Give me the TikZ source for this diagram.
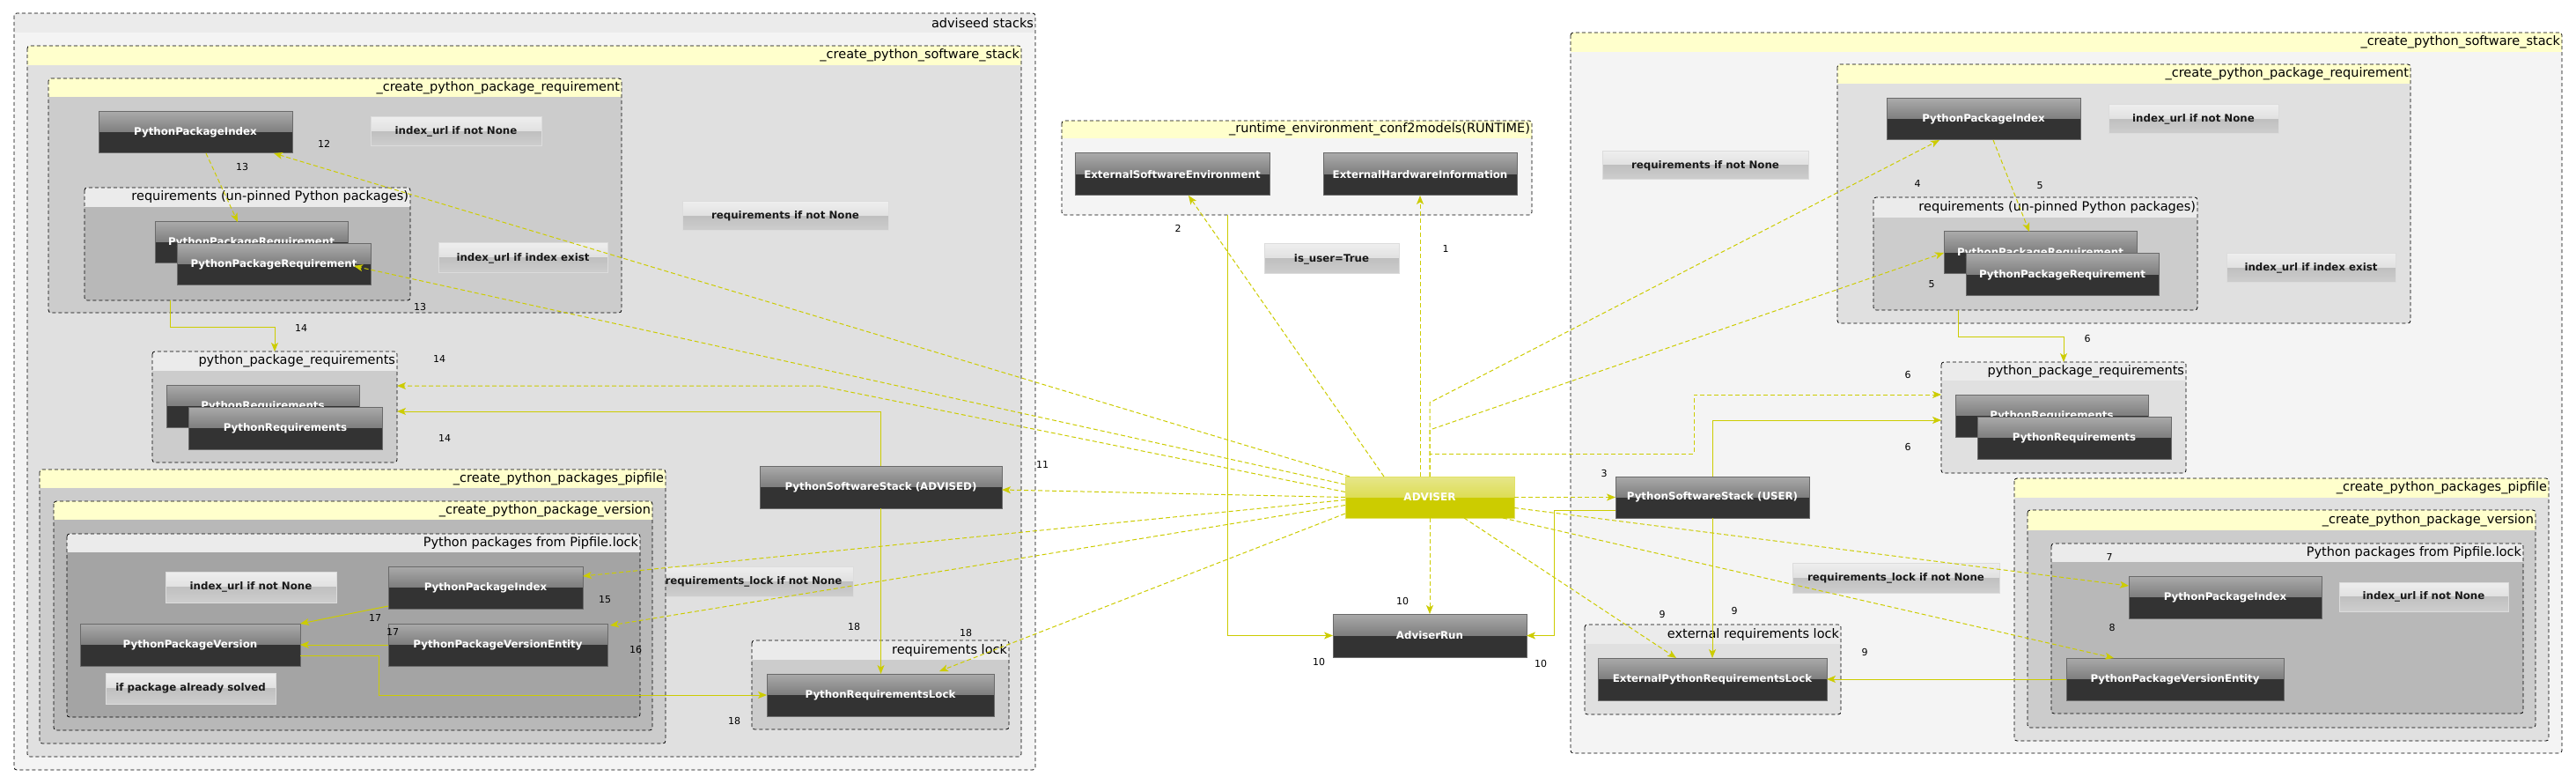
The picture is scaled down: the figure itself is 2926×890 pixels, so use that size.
\documentclass[tikz,border=0pt]{standalone}
\usepackage{fontspec}
\setmainfont{DejaVu Sans}
\usetikzlibrary{arrows.meta,calc}
\definecolor{edgec}{HTML}{CCCC00}
\definecolor{hdrY}{HTML}{FFFFCC}
\definecolor{hdrG}{HTML}{EBEBEB}
\definecolor{b1}{HTML}{F4F4F4}
\definecolor{b2}{HTML}{E0E0E0}
\definecolor{b3}{HTML}{CCCCCC}
\definecolor{b4}{HTML}{B8B8B8}
\definecolor{b5}{HTML}{A4A4A4}
\definecolor{dkTop}{HTML}{AAAAAA}
\definecolor{dkMid}{HTML}{505050}
\definecolor{dkBot}{HTML}{333333}
\definecolor{dkBorder}{HTML}{6A6A6A}
\definecolor{gbTop}{HTML}{EEEEEE}
\definecolor{gbMid}{HTML}{D2D2D2}
\definecolor{gbBotA}{HTML}{C0C0C0}
\definecolor{gbBotB}{HTML}{CECECE}
\definecolor{gbBorder}{HTML}{DCDCDC}
\definecolor{advTop}{HTML}{E6E68A}
\definecolor{advMid}{HTML}{D4D41E}
\definecolor{advBot}{HTML}{CCCC00}
\definecolor{advBorder}{HTML}{E2E266}
\tikzset{
  edge/.style={draw=edgec, line width=1pt, -{Stealth[length=10pt,width=8pt,inset=2.5pt]}},
  dedge/.style={edge, dash pattern=on 5pt off 3pt},
  clusborder/.style={draw=black, line width=0.8pt, dash pattern=on 4pt off 3pt, rounded corners=3pt},
  cluslabel/.style={inner sep=0pt, outer sep=0pt, text=black, font=\fontsize{14.5}{16}\selectfont},
  elab/.style={inner sep=0pt, text=black, font=\fontsize{11}{12}\selectfont},
  dk/.style={inner sep=0pt, outer sep=0pt, draw=dkBorder, line width=1pt, text=white,
    font=\bfseries\fontsize{11.8}{13}\selectfont,
    path picture={\shade[top color=dkTop,bottom color=dkMid] (path picture bounding box.north west) rectangle (path picture bounding box.east);
      \fill[dkBot] (path picture bounding box.west) rectangle (path picture bounding box.south east);}},
  gb/.style={inner sep=0pt, outer sep=0pt, draw=gbBorder, line width=1pt, text=black!90,
    font=\bfseries\fontsize{11.8}{13}\selectfont,
    path picture={\shade[top color=gbTop,bottom color=gbMid] (path picture bounding box.north west) rectangle (path picture bounding box.east);
      \shade[top color=gbBotA,bottom color=gbBotB] (path picture bounding box.west) rectangle (path picture bounding box.south east);}},
  av/.style={inner sep=0pt, outer sep=0pt, draw=advBorder, line width=1pt, text=white,
    font=\bfseries\fontsize{12}{13}\selectfont,
    path picture={\shade[top color=advTop,bottom color=advMid] (path picture bounding box.north west) rectangle (path picture bounding box.east);
      \fill[advBot] (path picture bounding box.west) rectangle (path picture bounding box.south east);}}
}
\newcommand\clus[9]{%
  \fill[#8, rounded corners=3pt] (#2,#3) rectangle (#4,#5);
  \begin{scope}
    \clip[rounded corners=3pt] (#2,#3) rectangle (#4,#5);
    \fill[#7] (#2,#3) rectangle (#4,#6);
  \end{scope}
  \draw[clusborder] (#2,#3) rectangle (#4,#5);
  \node[inner sep=0pt, outer sep=0pt, minimum width={(#4-#2)*1pt}, minimum height={(#5-#3)*1pt}] (#1) at ({(#2+#4)/2},{(#3+#5)/2}) {};
  \node[cluslabel, anchor=east] (#1-l) at ({#4-2},{(#3+#6)/2}) {#9};
}
\newcommand\dnode[6]{\node[dk, minimum width={(#4-#2)*1pt}, minimum height={(#5-#3)*1pt}] (#1) at ({(#2+#4)/2},{(#3+#5)/2}) {#6};}
\newcommand\gnode[6]{\node[gb, minimum width={(#4-#2)*1pt}, minimum height={(#5-#3)*1pt}] (#1) at ({(#2+#4)/2},{(#3+#5)/2}) {#6};}
\newcommand\anode[6]{\node[av, minimum width={(#4-#2)*1pt}, minimum height={(#5-#3)*1pt}] (#1) at ({(#2+#4)/2},{(#3+#5)/2}) {#6};}
\begin{document}
\begin{tikzpicture}[x=1pt,y=-1pt]
\useasboundingbox (0,0) rectangle (2926,890);
\fill[white] (0,0) rectangle (2926,890);

% ---------- left clusters ----------
\clus{cadv}{16}{15}{1176}{874}{37}{hdrG}{b1}{adviseed stacks}
\clus{cpssL}{31}{52}{1160}{859}{74}{hdrY}{b2}{\_create\_python\_software\_stack}
\gnode{gReqL}{775}{229}{1009}{262}{requirements if not None}
\gnode{gRlL}{743}{643}{969}{677}{requirements\_lock if not None}
\clus{cpprL}{55}{89}{706}{355}{110}{hdrY}{b3}{\_create\_python\_package\_requirement}
\clus{creqL}{96}{213}{466}{341}{235}{hdrG}{b4}{requirements (un-pinned Python packages)}
\clus{pprqL}{173}{399}{451}{525}{421}{hdrG}{b3}{python\_package\_requirements}
\clus{cpipL}{45}{533}{756}{844}{554}{hdrY}{b3}{\_create\_python\_packages\_pipfile}
\clus{cverL}{61}{569}{741}{829}{590}{hdrY}{b4}{\_create\_python\_package\_version}
\clus{clockL}{76}{606}{727}{814}{627}{hdrG}{b5}{Python packages from Pipfile.lock}
\clus{crlL}{854}{727}{1146}{828}{749}{hdrG}{b3}{requirements lock}

% ---------- centre cluster ----------
\clus{crt}{1206}{137}{1740}{244}{157}{hdrY}{b1}{\_runtime\_environment\_conf2models(RUNTIME)}

% ---------- right clusters ----------
\clus{cpssR}{1784}{37}{2910}{855}{59}{hdrY}{b1}{\_create\_python\_software\_stack}
\clus{cpprR}{2087}{73}{2738}{367}{95}{hdrY}{b2}{\_create\_python\_package\_requirement}
\clus{creqR}{2128}{224}{2496}{352}{247}{hdrG}{b3}{requirements (un-pinned Python packages)}
\clus{pprqR}{2205}{411}{2483}{537}{432}{hdrG}{b2}{python\_package\_requirements}
\clus{cerl}{1800}{709}{2091}{811}{731}{hdrG}{b2}{external requirements lock}
\clus{cpipR}{2288}{543}{2895}{841}{565}{hdrY}{b2}{\_create\_python\_packages\_pipfile}
\clus{cverR}{2303}{579}{2880}{826}{602}{hdrY}{b3}{\_create\_python\_package\_version}
\clus{clockR}{2330}{617}{2866}{810}{638}{hdrG}{b4}{Python packages from Pipfile.lock}

% ---------- grey condition boxes ----------
\gnode{gIdx1L}{421}{133}{615}{166}{index\_url if not None}
\gnode{gIdx2L}{498}{276}{690}{310}{index\_url if index exist}
\gnode{gIdx3L}{188}{649}{382}{684}{index\_url if not None}
\gnode{gSolved}{120}{764}{313}{799}{if package already solved}
\gnode{gUser}{1436}{277}{1589}{311}{is\_user=True}
\gnode{gReqR}{1820}{172}{2054}{204}{requirements if not None}
\gnode{gIdx1R}{2395}{119}{2588}{152}{index\_url if not None}
\gnode{gIdx2R}{2529}{288}{2721}{321}{index\_url if index exist}
\gnode{gRlR}{2036}{639}{2271}{673}{requirements\_lock if not None}
\gnode{gIdx3R}{2657}{661}{2849}{694}{index\_url if not None}

% ---------- dark nodes ----------
\dnode{ppiL}{112}{127}{332}{174}{PythonPackageIndex}
\dnode{pprLb}{176}{252}{395}{299}{PythonPackageRequirement}
\dnode{pprLf}{201}{277}{421}{324}{PythonPackageRequirement}
\dnode{prLb}{189}{437}{408}{485}{PythonRequirements}
\dnode{prLf}{214}{462}{434}{510}{PythonRequirements}
\dnode{ppi2L}{441}{643}{662}{691}{PythonPackageIndex}
\dnode{ppvL}{91}{708}{341}{756}{PythonPackageVersion}
\dnode{ppveL}{441}{708}{690}{756}{PythonPackageVersionEntity}
\dnode{pssA}{863}{529}{1138}{577}{PythonSoftwareStack (ADVISED)}
\dnode{prlL}{871}{765}{1129}{813}{PythonRequirementsLock}
\dnode{ese}{1221}{174}{1442}{222}{ExternalSoftwareEnvironment}
\dnode{ehi}{1503}{174}{1723}{222}{ExternalHardwareInformation}
\anode{adv}{1528}{541}{1720}{588}{ADVISER}
\dnode{arun}{1514}{697}{1734}{746}{AdviserRun}
\dnode{ppiR}{2143}{112}{2363}{159}{PythonPackageIndex}
\dnode{pprRb}{2208}{263}{2427}{311}{PythonPackageRequirement}
\dnode{pprRf}{2233}{288}{2452}{336}{PythonPackageRequirement}
\dnode{prRb}{2221}{448}{2440}{496}{PythonRequirements}
\dnode{prRf}{2246}{473}{2466}{521}{PythonRequirements}
\dnode{pssU}{1835}{541}{2055}{588}{PythonSoftwareStack (USER)}
\dnode{eprl}{1815}{747}{2075}{795}{ExternalPythonRequirementsLock}
\dnode{ppi2R}{2418}{654}{2637}{702}{PythonPackageIndex}
\dnode{ppveR}{2347}{747}{2594}{795}{PythonPackageVersionEntity}

% ---------- connectors: left internal ----------
\draw[dedge] ([xshift=12pt]ppiL.south) -- ([xshift=-15.5pt]pprLb.north);
\draw[edge] ([xshift=-88pt]creqL.south) -- ++(0,31) -| (pprqL.north);
\draw[edge] ([yshift=3pt]ppi2L.south west) -- (ppvL.north east);
\draw[edge] (ppveL.west) -- (ppvL.east);
\draw[edge] ([yshift=-12pt]ppvL.east) -- ++(89,0) |- (prlL.west);
\draw[edge] (pssA.south) -- (pssA.south |- prlL.north);
\draw[edge] (pssA.north) |- ([yshift=-5pt]pprqL.east);

% ---------- connectors: ADVISER to the left ----------
\coordinate (b14) at (931,438);
\draw[dedge] ([xshift=5pt]adv.north west) -- ([xshift=-21pt]ppiL.south east);
\draw[dedge] ([yshift=-9pt]adv.north west) -- ([xshift=-19pt,yshift=-1.5pt]pprLf.east);
\draw[dedge] ([yshift=6pt]adv.west) -- (b14) -- ([yshift=24pt]pprqL.east);
\draw[dedge] (adv.west) -- ([yshift=-3pt]pssA.east);
\draw[dedge] ([yshift=-3pt]adv.west) -- ([yshift=13pt]ppi2L.east);
\draw[dedge] ([yshift=-9pt]adv.west) -- ([xshift=3pt,yshift=-2pt]ppveL.north east);
\draw[dedge] ([yshift=5pt]adv.south west) -- ([xshift=67pt,yshift=3pt]prlL.north);

% ---------- connectors: ADVISER upwards ----------
\draw[dedge] ([xshift=44pt]adv.north west) -- ([xshift=18.5pt]ese.south);
\draw[dedge] ([xshift=-11pt]adv.north) -- (ehi.south);
\draw[dedge] (adv.north) -- ++(0,-84) -- ([xshift=60pt]ppiR.south west);
\draw[dedge] (adv.north) -- ++(0,-53) -- (pprRb.west);
\draw[dedge] (adv.north) -- ++(0,-26) -- ++(300,0) |- ([yshift=26pt]pprqR.west);

% ---------- connectors: ADVISER to the right / down ----------
\draw[dedge] (adv.east) -- (pssU.west);
\draw[dedge] ([yshift=-12pt]adv.east) -- ([yshift=13pt]ppi2R.west);
\draw[dedge] ([xshift=-13pt]adv.south east) -- ([xshift=54pt]ppveR.north west);
\draw[dedge] ([xshift=-57pt]adv.south east) -- ([xshift=89pt]eprl.north west);
\draw[dedge] (adv.south) -- (arun.north);

% ---------- connectors: right internal ----------
\draw[dedge] ([xshift=11pt]ppiR.south) -- ([xshift=-12.5pt]pprRb.north);
\draw[edge] ([xshift=-88pt]creqR.south) -- ++(0,31) -| (pprqR.north);
\draw[edge] (pssU.north) |- ([yshift=-3pt]pprqR.west);
\draw[edge] (pssU.south) -- (pssU.south |- eprl.north);
\draw[edge] (ppveR.west) -- (eprl.east);
\draw[edge] ([yshift=-14.5pt]pssU.west) -- ++(-70,0) |- (arun.east);
\draw[edge] ([xshift=-79pt]crt.south) |- (arun.west);

% ---------- edge labels ----------
\node[elab] (n12) at (368,163) {12};
\node[elab] (n13a) at (275,189) {13};
\node[elab] (n13b) at (477,348) {13};
\node[elab] (n14a) at (342,372) {14};
\node[elab] (n14b) at (499,407) {14};
\node[elab] (n14c) at (505,497) {14};
\node[elab] (n17a) at (426,701) {17};
\node[elab] (n17b) at (446,717) {17};
\node[elab] (n15) at (687,681) {15};
\node[elab] (n16) at (722,737) {16};
\node[elab] (n18a) at (970,711) {18};
\node[elab] (n18b) at (1097,718) {18};
\node[elab] (n18c) at (834,818) {18};
\node[elab] (n11) at (1184,527) {11};
\node[elab] (n2) at (1338,259) {2};
\node[elab] (n1) at (1642,282) {1};
\node[elab] (n10a) at (1593,682) {10};
\node[elab] (n10b) at (1498,751) {10};
\node[elab] (n10c) at (1750,753) {10};
\node[elab] (n3) at (1822,537) {3};
\node[elab] (n4) at (2178,208) {4};
\node[elab] (n5a) at (2317,211) {5};
\node[elab] (n5b) at (2194,323) {5};
\node[elab] (n6a) at (2371,384) {6};
\node[elab] (n6b) at (2167,425) {6};
\node[elab] (n6c) at (2167,507) {6};
\node[elab] (n7) at (2396,632) {7};
\node[elab] (n8) at (2399,712) {8};
\node[elab] (n9a) at (1888,697) {9};
\node[elab] (n9b) at (1970,693) {9};
\node[elab] (n9c) at (2118,740) {9};
\end{tikzpicture}
\end{document}
